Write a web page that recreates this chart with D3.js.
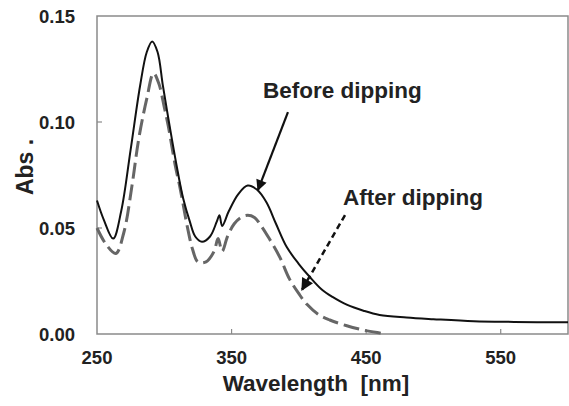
<!DOCTYPE html>
<html>
<head>
<meta charset="utf-8">
<script src="https://cdn.jsdelivr.net/npm/d3@7"></script>
<style>
  body { margin: 0; background: #fff; }
  text { font-family: "Liberation Sans", Arial, sans-serif; font-weight: bold; fill: #222; }
</style>
</head>
<body>
<div id="chart"></div>
<script>
// spectra
var wlBefore = [250,255,262,268,275,282,287,291,295,299,304,309,314,319,323,328,334,339,341,343,348,355,362,369,376,383,391,400,408,417,425,436,448,460,480,500,530,560,600];
var absBefore = [0.063,0.054,0.045,0.058,0.087,0.117,0.133,0.138,0.133,0.117,0.098,0.080,0.064,0.053,0.046,0.0435,0.046,0.053,0.056,0.051,0.058,0.066,0.070,0.068,0.062,0.052,0.041,0.033,0.027,0.021,0.0175,0.0137,0.011,0.009,0.0078,0.007,0.006,0.0057,0.0055];

var wlAfter = [250,257,264,270,276,281,287,292,296,300,303,308,312,317,321,325,331,337,340,343,347,352,357,362,367,372,378,386,393,400,406,415,423,435,447,460,465];
var absAfter = [0.050,0.042,0.038,0.048,0.070,0.092,0.111,0.123,0.118,0.107,0.098,0.080,0.068,0.051,0.040,0.034,0.034,0.039,0.045,0.039,0.046,0.052,0.055,0.056,0.055,0.051,0.045,0.036,0.026,0.019,0.014,0.009,0.0066,0.004,0.002,0.0005,0];

var xTicks = [250, 350, 450, 550];
var yTicks = [0, 0.05, 0.10, 0.15];

var width = 569, height = 406;
var plotL = 97, plotR = 568, plotT = 16, plotB = 334;

var svg = d3.select("#chart").append("svg")
    .attr("width", width)
    .attr("height", height);

var x = d3.scaleLinear().domain([250, 600]).range([plotL, plotR]);
var y = d3.scaleLinear().domain([0, 0.15]).range([plotB, plotT]);

// frame
svg.append("rect")
    .attr("x", plotL).attr("y", plotT)
    .attr("width", plotR - plotL).attr("height", plotB - plotT)
    .attr("fill", "none")
    .attr("stroke", "#8a8a8a")
    .attr("stroke-width", 1.5);

// inward ticks
svg.selectAll(".xt").data(xTicks.slice(1)).enter().append("line")
    .attr("x1", function(d){ return x(d); }).attr("x2", function(d){ return x(d); })
    .attr("y1", plotB).attr("y2", plotB - 5)
    .attr("stroke", "#8a8a8a").attr("stroke-width", 1.2);

svg.selectAll(".yt").data(yTicks.slice(1, 3)).enter().append("line")
    .attr("x1", plotL).attr("x2", plotL + 5)
    .attr("y1", function(d){ return y(d); }).attr("y2", function(d){ return y(d); })
    .attr("stroke", "#8a8a8a").attr("stroke-width", 1.2);

// tick labels
svg.selectAll(".xl").data(xTicks).enter().append("text")
    .attr("x", function(d){ return x(d); })
    .attr("y", 364)
    .attr("text-anchor", "middle")
    .attr("font-size", 18.5)
    .text(function(d){ return d; });

svg.selectAll(".yl").data(yTicks).enter().append("text")
    .attr("x", 75)
    .attr("y", function(d){ return y(d) + 6.5; })
    .attr("text-anchor", "end")
    .attr("font-size", 18.5)
    .text(function(d){ return d3.format(".2f")(d); });

// axis titles
svg.append("text")
    .attr("x", 316).attr("y", 391)
    .attr("text-anchor", "middle")
    .attr("font-size", 22.5)
    .attr("xml:space", "preserve")
    .text("Wavelength  [nm]");

svg.append("text")
    .attr("transform", "translate(33,167) rotate(-90)")
    .attr("text-anchor", "middle")
    .attr("font-size", 23)
    .text("Abs .");

// curves
var line = d3.line()
    .x(function(d){ return x(d[0]); })
    .y(function(d){ return y(d[1]); })
    .curve(d3.curveCatmullRom.alpha(0.5));

svg.append("path")
    .datum(d3.zip(wlAfter, absAfter))
    .attr("d", line)
    .attr("fill", "none")
    .attr("stroke", "#666")
    .attr("stroke-width", 3)
    .attr("stroke-dasharray", "16,6");

svg.append("path")
    .datum(d3.zip(wlBefore, absBefore))
    .attr("d", line)
    .attr("fill", "none")
    .attr("stroke", "#111")
    .attr("stroke-width", 2);

// arrows
var defs = svg.append("defs");
defs.append("marker")
    .attr("id", "head")
    .attr("viewBox", "0 0 10 10")
    .attr("refX", 9).attr("refY", 5)
    .attr("markerWidth", 5.5).attr("markerHeight", 5)
    .attr("markerUnits", "strokeWidth")
    .attr("orient", "auto")
  .append("path")
    .attr("d", "M0,0 L10,5 L0,10 z")
    .attr("fill", "#111");

svg.append("line")
    .attr("x1", x(391.9)).attr("y1", y(0.1047))
    .attr("x2", x(369.6)).attr("y2", y(0.0679))
    .attr("stroke", "#111").attr("stroke-width", 2.2)
    .attr("marker-end", "url(#head)");

svg.append("line")
    .attr("x1", x(434.3)).attr("y1", y(0.0561))
    .attr("x2", x(402.3)).attr("y2", y(0.0208))
    .attr("stroke", "#111").attr("stroke-width", 2.5)
    .attr("stroke-dasharray", "6,4")
    .attr("marker-end", "url(#head)");

svg.append("text")
    .attr("x", x(373.4)).attr("y", y(0.1113))
    .attr("font-size", 22.5)
    .text("Before dipping");

svg.append("text")
    .attr("x", x(432.8)).attr("y", y(0.0608))
    .attr("font-size", 22.5)
    .text("After dipping");
</script>
</body>
</html>
